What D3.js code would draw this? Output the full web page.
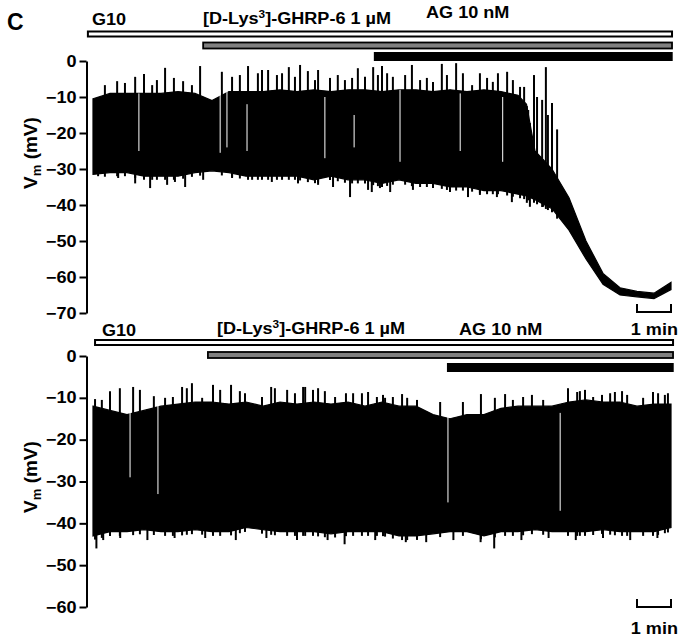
<!DOCTYPE html>
<html><head><meta charset="utf-8">
<script src="https://cdn.jsdelivr.net/npm/d3@7"></script>
<style>
body{margin:0;background:#fff;}
text{font-family:"Liberation Sans",Arial,sans-serif;font-weight:bold;fill:#000;}
</style></head>
<body><svg id="c" width="679" height="640"></svg>
<script>
// ---------- DATA (time in min, Vm in mV) ----------
const topT     = [0,0.5,1,1.5,2,2.5,3,3.5,4,4.5,5,5.5,6,6.5,7,7.5,8,8.5,9,9.5,10,10.5,11,11.5,12,12.5,12.75,13,13.5,14,14.5,15,15.5,16,16.5,17];
const topUpper = [-10.5,-9,-9,-9,-9,-8.5,-9,-11,-8.5,-8.5,-8.5,-8,-8.5,-8,-8.5,-8,-8,-8.5,-8,-8,-8.5,-8,-8.5,-8,-8.5,-9.5,-12,-25,-30,-38,-50,-59,-63,-64,-64.5,-61.5];
const topLower = [-31.5,-31,-31,-32,-32,-32,-31,-30.5,-31,-32,-32,-32,-32,-33,-32,-33,-33,-34,-33,-34,-34,-35,-35,-36,-36,-37,-37.5,-38.5,-41,-47,-55,-62,-65,-65.5,-66,-63.5];
const topSpikes = [[0.35,-6.7],[0.71,-5.6],[0.94,-6.1],[1.24,-4.4],[1.5,-3.6],[1.74,-6.7],[1.88,-5.3],[2.12,-1.9],[2.38,-4.7],[2.65,-5.6],[2.91,-6.7],[3.15,-1.4],[3.79,-3],[4.09,-4.4],[4.32,-3.9],[4.56,-1.4],[4.85,-3.4],[4.97,-2.5],[5.15,-2.5],[5.41,-3.9],[5.56,-3.4],[5.76,-1.7],[5.94,-4.4],[6.09,-1.1],[6.32,-2.8],[6.53,-5.3],[6.62,-2.5],[6.97,-4.7],[7.2,-3.9],[7.41,-5.3],[7.62,-4.7],[7.79,-2],[8.0,-4.4],[8.24,-1.7],[8.38,-3.9],[8.5,-1.4],[8.65,-3.4],[8.82,-4.4],[9.18,-3.9],[9.38,-1.1],[9.62,-5.3],[9.82,-4.7],[10.0,-5.8],[10.26,-0.8],[10.41,-3.9],[10.68,-0.6],[10.88,-3.4],[11.15,-6.7],[11.38,-3.4],[11.59,-4.7],[11.76,-5.8],[11.91,-3.4],[12.18,-3],[12.35,-5.3],[12.56,-7.2],[12.68,-7.2],[12.8,-13.6],[12.97,-3.9],[13.06,-10],[13.21,-10.8],[13.32,-1.7],[13.38,-15],[13.5,-11.7],[13.65,-19]];
const topDips = [[0.15,-32],[0.74,-32.5],[1.24,-34],[1.68,-35.3],[2.18,-34.4],[2.41,-33.6],[2.71,-35],[3.24,-33],[4.09,-32.5],[4.68,-33],[5.26,-33.6],[6.03,-34],[6.62,-34.4],[7.06,-35],[7.56,-37.8],[8.09,-35.8],[8.2,-36.4],[8.44,-35.3],[8.74,-36.4],[9.41,-35.8],[10.0,-35.3],[10.5,-36.4],[11.03,-37.8],[11.38,-37.2],[11.88,-37.8],[12.32,-39.2],[12.76,-39.4],[12.85,-40.5],[13.24,-40.5]];
const topGaps = [[1.35,-9,-25],[3.74,-8,-25.5],[3.94,-8,-24],[4.53,-12,-25],[6.82,-10,-27],[7.68,-15,-24],[9.03,-8,-28],[10.8,-9,-25],[12.05,-10,-28]];

const botT     = [0,0.5,1,1.5,2,2.5,3,3.5,4,4.5,5,5.5,6,6.5,7,7.5,8,8.5,9,9.5,10,10.5,11,11.5,12,12.5,13,13.5,14,14.5,15,15.5,16,16.5,17];
const botUpper = [-12,-13,-14,-13,-12,-11.5,-11,-11,-11.5,-11,-12,-11,-11.5,-11,-11.5,-11,-12,-11,-12,-12,-14,-15,-14,-14,-12.5,-12,-12,-12,-11,-10.5,-11,-11,-12,-11.5,-11.5];
const botLower = [-43,-42,-42,-41.5,-42,-42,-41.5,-42,-42,-41,-41.5,-42,-42,-42,-42.5,-42,-42,-42,-43,-43,-42.5,-42,-42,-43,-42,-42,-41.5,-42,-42,-42,-41.5,-42,-42,-42,-41];
const botSpikes = [[0.06,-10.3],[0.26,-10.5],[0.5,-8.4],[0.79,-7.7],[1.18,-7.4],[1.38,-8.1],[1.79,-9.6],[2.12,-10],[2.35,-9.8],[2.62,-7.4],[2.76,-7.7],[2.91,-6.5],[3.21,-10],[3.53,-6.9],[3.74,-8.1],[4.06,-6.9],[4.32,-8.4],[4.47,-8.9],[4.97,-9.8],[5.24,-7.4],[5.35,-7.7],[5.71,-8.1],[5.94,-8.9],[6.18,-7.4],[6.24,-7.4],[6.47,-8.1],[6.62,-7.7],[6.82,-8.4],[7.12,-9.8],[7.44,-8.9],[7.65,-8.9],[7.91,-8.9],[8.09,-8.6],[8.35,-9.8],[8.53,-9.3],[8.59,-10],[8.82,-9.8],[9.09,-9.1],[9.24,-10],[9.53,-10.5],[10.21,-11],[10.88,-11],[11.41,-9.1],[11.82,-10],[12.12,-9.1],[12.35,-10.5],[12.65,-9.8],[12.91,-9.3],[13.24,-10.5],[13.97,-7.7],[14.24,-8.6],[14.32,-8.4],[14.47,-8.1],[14.71,-9.8],[14.97,-9.3],[15.21,-8.9],[15.35,-8.6],[15.56,-8.4],[15.71,-9.3],[16.18,-10],[16.47,-8.6],[16.62,-8.9],[16.82,-9.3],[16.91,-8.9]];
const botDips = [[0.1,-46],[0.3,-44],[0.8,-43.5],[1.6,-44],[2.4,-43.5],[3.3,-43.5],[4.2,-44],[5.1,-43.5],[6.0,-44],[6.9,-44],[7.4,-45],[8.3,-44],[9.2,-44.5],[9.8,-44.5],[10.6,-44],[11.4,-44.5],[11.8,-46],[12.6,-44],[13.4,-43.5],[14.2,-44],[15.0,-43.5],[15.8,-44],[16.6,-43.5]];
const botGaps = [[1.09,-10.5,-29],[1.91,-11,-33],[10.44,-13.6,-35],[13.74,-13.6,-37]];

const topTicks = [0,-10,-20,-30,-40,-50,-60,-70];
const botTicks = [0,-10,-20,-30,-40,-50,-60];
// drug bars: [label, start (min), end (min), type]
const topBars = [["G10",-0.15,17.03,"open"],["[D-Lys³]-GHRP-6 1 µM",3.24,17.03,"grey"],["AG 10 nM",8.26,17.05,"black"]];
const botBars = [["G10",0.06,17.06,"open"],["[D-Lys³]-GHRP-6 1 µM",3.38,17.06,"grey"],["AG 10 nM",10.41,17.08,"black"]];
const scaleBar = [16,17]; // 1 min

// ---------- DRAW ----------
const svg = d3.select("#c");
const x = d3.scaleLinear().domain([0,17]).range([93,671]);
const SX = 1.13, FS = 16;

function label(px, py, anchor){
  return svg.append("text").attr("transform",`translate(${px},${py}) scale(${SX},1)`)
    .attr("font-size",FS).attr("text-anchor",anchor||"start");
}
function supLabel(txt, px, py){
  const el = label(px,py);
  const parts = txt.split("³");
  el.append("tspan").text(parts[0]);
  el.append("tspan").text("3").attr("font-size",10.5).attr("dy",-6);
  el.append("tspan").text(parts[1]).attr("dy",6);
}

svg.append("text").attr("x",7).attr("y",30).attr("font-size",23).text("C");

function panel(cfg){
  const y = d3.scaleLinear().domain([cfg.ticks[cfg.ticks.length-1],0]).range([cfg.y0,cfg.yTop]);
  const ax = svg.append("g").attr("transform",`translate(86.5,0)`)
    .call(d3.axisLeft(y).tickValues(cfg.ticks).tickSize(7).tickSizeOuter(0).tickFormat(d3.format("d")));
  ax.select(".domain").attr("stroke-width",2).attr("stroke","#000");
  ax.selectAll(".tick line").attr("stroke-width",2).attr("stroke","#000");
  ax.selectAll(".tick text").attr("x",null).attr("font-size",FS).attr("fill","#000")
    .attr("transform",`translate(-10,0) scale(${SX},1)`).attr("font-family",null).attr("text-anchor","end");
  const yl = svg.append("text").attr("transform",`translate(${cfg.labX},${cfg.labY}) rotate(-90)`)
    .attr("font-size",19).attr("text-anchor","middle");
  yl.append("tspan").text("V");
  yl.append("tspan").text("m").attr("font-size",13).attr("dy",4);
  yl.append("tspan").text(" (mV)").attr("dy",-4);

  const rows = cfg.t.map((t,i)=>({t, hi:cfg.upper[i], lo:cfg.lower[i]}));
  const area = d3.area().x(d=>x(d.t)).y0(d=>y(d.lo)).y1(d=>y(d.hi));
  svg.append("path").datum(rows).attr("d",area).attr("fill","#000").attr("stroke","#000").attr("stroke-width",1.2);
  const loAt = d3.scaleLinear().domain(cfg.t).range(cfg.lower);
  const hiAt = d3.scaleLinear().domain(cfg.t).range(cfg.upper);
  svg.append("g").selectAll("line").data(cfg.spikes).join("line")
    .attr("x1",d=>x(d[0])).attr("x2",d=>x(d[0]))
    .attr("y1",d=>y(d[1])).attr("y2",d=>y(loAt(d[0])-1))
    .attr("stroke","#000").attr("stroke-width",2);
  svg.append("g").selectAll("line").data(cfg.dips).join("line")
    .attr("x1",d=>x(d[0])).attr("x2",d=>x(d[0]))
    .attr("y1",d=>y(d[1])).attr("y2",d=>y(hiAt(d[0])))
    .attr("stroke","#000").attr("stroke-width",2);
  svg.append("g").selectAll("line").data(cfg.gaps).join("line")
    .attr("x1",d=>x(d[0])).attr("x2",d=>x(d[0]))
    .attr("y1",d=>y(d[1])).attr("y2",d=>y(d[2]))
    .attr("stroke","#fff").attr("stroke-width",1);

  cfg.bars.forEach((b,i)=>{
    const yb = cfg.barY[i];
    const r = svg.append("rect").attr("x",x(b[1])).attr("width",x(b[2])-x(b[1]));
    if(b[3]==="open") r.attr("y",yb).attr("height",5).attr("fill","#fff").attr("stroke","#000").attr("stroke-width",2);
    else if(b[3]==="grey") r.attr("y",yb).attr("height",6).attr("fill","#808080").attr("stroke","#000").attr("stroke-width",1.8);
    else r.attr("y",yb).attr("height",9).attr("fill","#000");
  });
  label(cfg.labPos[0][0],cfg.labPos[0][1]).text(cfg.bars[0][0]);
  supLabel(cfg.bars[1][0],cfg.labPos[1][0],cfg.labPos[1][1]);
  label(cfg.labPos[2][0],cfg.labPos[2][1]).text(cfg.bars[2][0]);

  svg.append("path").attr("d",`M${x(scaleBar[0])},${cfg.sbY-8}V${cfg.sbY}H${x(scaleBar[1])}V${cfg.sbY-8}`)
    .attr("fill","none").attr("stroke","#000").attr("stroke-width",2);
  label(678,cfg.sbLab,"end").text("1 min");
}

panel({t:topT, upper:topUpper, lower:topLower, spikes:topSpikes, dips:topDips, gaps:topGaps,
  ticks:topTicks, y0:313, yTop:61, labX:37, labY:153, bars:topBars, barY:[31.5,42.5,52],
  labPos:[[92,25],[203,24],[426,18]], sbY:312, sbLab:335});
panel({t:botT, upper:botUpper, lower:botLower, spikes:botSpikes, dips:botDips, gaps:botGaps,
  ticks:botTicks, y0:607, yTop:356, labX:37, labY:477, bars:botBars, barY:[340,352,363],
  labPos:[[102,336],[217,334],[459,335]], sbY:607, sbLab:634});
</script></body></html>
